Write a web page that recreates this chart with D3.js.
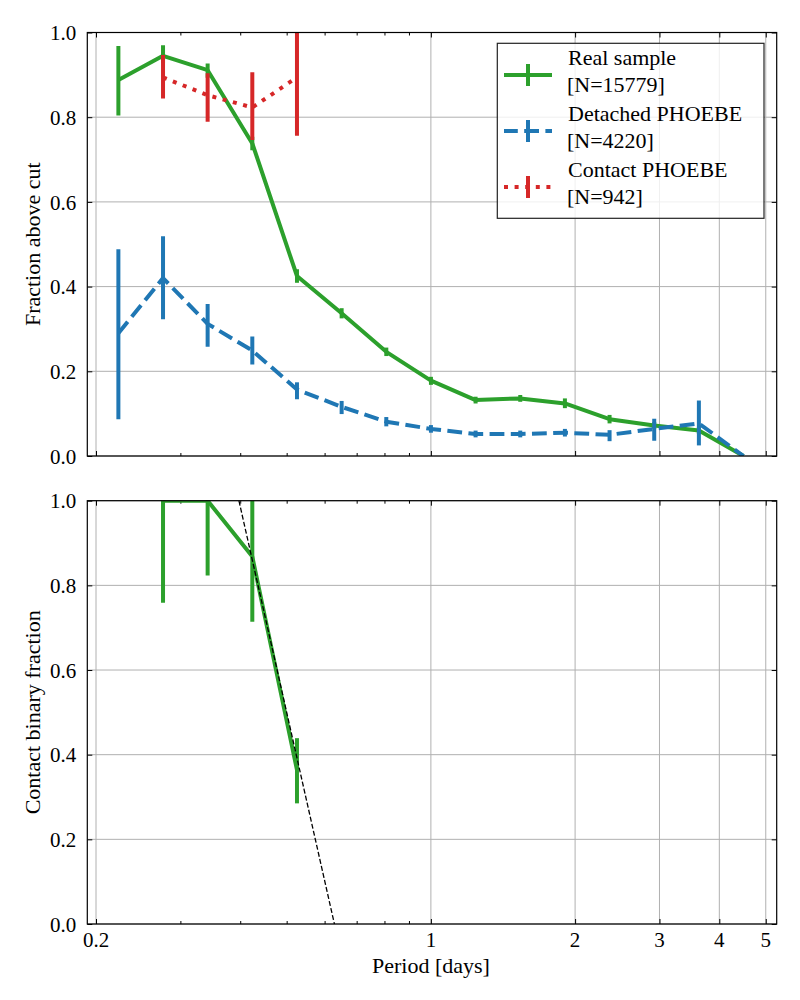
<!DOCTYPE html>
<html>
<head>
<meta charset="utf-8">
<script src="https://cdn.jsdelivr.net/npm/d3@7/dist/d3.min.js"></script>
<style>
  body { margin: 0; background: #fff; }
  svg text { font-family: "Liberation Serif", "DejaVu Serif", serif; fill: #000; }
</style>
</head>
<body>
<script>
// period bin centres [days]
const periods = [0.2227, 0.2760, 0.3420, 0.4239, 0.5254, 0.6512, 0.8071, 1.0003,
  1.2397, 1.5365, 1.9043, 2.3602, 2.9253, 3.6256, 4.4935];

// top panel: fraction above cut
const realFrac = [0.888, 0.945, 0.911, 0.738, 0.425, 0.337, 0.246, 0.178, 0.132, 0.136, 0.124, 0.087, 0.072, 0.060, 0.0];
const realLo   = [0.804, 0.928, 0.893, 0.722, 0.409, 0.325, 0.236, 0.168, 0.124, 0.128, 0.113, 0.077, 0.064, 0.052, 0.0];
const realHi   = [0.968, 0.970, 0.927, 0.754, 0.441, 0.349, 0.256, 0.187, 0.140, 0.144, 0.136, 0.097, 0.080, 0.068, 0.0];

const detFrac = [0.290, 0.420, 0.312, 0.249, 0.157, 0.116, 0.081, 0.064, 0.052, 0.052, 0.055, 0.050, 0.064, 0.077, 0.0];
const detLo   = [0.087, 0.323, 0.258, 0.216, 0.134, 0.099, 0.070, 0.055, 0.044, 0.044, 0.046, 0.035, 0.036, 0.025, 0.0];
const detHi   = [0.488, 0.519, 0.359, 0.282, 0.174, 0.130, 0.092, 0.073, 0.060, 0.060, 0.064, 0.061, 0.088, 0.131, 0.0];

const contPeriods = [0.2760, 0.3420, 0.4239, 0.5254];
const contFrac = [0.894, 0.852, 0.823, 0.894];
const contLo   = [0.844, 0.789, 0.746, 0.756];
const contHi   = [0.947, 0.904, 0.906, 1.050];

// bottom panel: contact binary fraction
const binPeriods = [0.2760, 0.3420, 0.4239, 0.5254];
const binFrac = [1.0, 1.0, 0.868, 0.364];
const binLo   = [0.759, 0.823, 0.714, 0.285];
const binHi   = [1.05, 1.05, 1.03, 0.439];

// dashed fit line end points
const fitPeriods = [0.3975, 0.629];
const fitValues = [1.0, 0.0];

const xTickVals = [0.2, 1, 2, 3, 4, 5];
const xTickLabels = ["0.2", "1", "2", "3", "4", "5"];
const xMinorVals = [0.3, 0.4, 0.5, 0.6, 0.7, 0.8, 0.9];
const yTickVals = [0, 0.2, 0.4, 0.6, 0.8, 1.0];

const legendLabels = [["Real sample", "[N=15779]"], ["Detached PHOEBE", "[N=4220]"], ["Contact PHOEBE", "[N=942]"]];

const green = "#2ca02c", blue = "#1f77b4", red = "#d62728";

const width = 800, height = 1000;
const left = 87.3, right = 776.7;
const lw = 4;

const svg = d3.select("body").append("svg")
  .attr("width", width)
  .attr("height", height);

const x = d3.scaleLog().domain([0.1918, 5.27]).range([left, right]);

function makePanel(top, bottom, id) {
  const y = d3.scaleLinear().domain([0, 1]).range([bottom, top]);
  const g = svg.append("g");

  svg.append("clipPath").attr("id", id)
    .append("rect")
    .attr("x", left).attr("y", top)
    .attr("width", right - left).attr("height", bottom - top);

  // grid
  g.selectAll(".gy").data(yTickVals).enter().append("line")
    .attr("x1", left).attr("x2", right)
    .attr("y1", d => y(d)).attr("y2", d => y(d))
    .attr("stroke", "#b0b0b0").attr("stroke-width", 1);
  g.selectAll(".gx").data(xTickVals).enter().append("line")
    .attr("x1", d => x(d)).attr("x2", d => x(d))
    .attr("y1", top).attr("y2", bottom)
    .attr("stroke", "#b0b0b0").attr("stroke-width", 1);

  // inward ticks on all sides
  const axes = [
    d3.axisBottom(x).tickValues(xTickVals).tickSize(-5).tickFormat(""),
    d3.axisBottom(x).tickValues(xMinorVals).tickSize(-3).tickFormat("")
  ];
  axes.forEach(ax => {
    g.append("g").attr("transform", `translate(0,${bottom})`).call(ax)
      .call(s => s.select(".domain").remove());
    g.append("g").attr("transform", `translate(0,${top})`)
      .call(ax.tickSize(-ax.tickSize()))
      .call(s => s.select(".domain").remove());
  });
  g.append("g").attr("transform", `translate(${left},0)`)
    .call(d3.axisLeft(y).tickValues(yTickVals).tickSize(-5).tickPadding(11).tickFormat(d3.format(".1f")))
    .call(s => s.select(".domain").remove())
    .call(s => s.selectAll("text").style("font-size", "21px").attr("dy", "0.34em"));
  g.append("g").attr("transform", `translate(${right},0)`)
    .call(d3.axisRight(y).tickValues(yTickVals).tickSize(-5).tickFormat(""))
    .call(s => s.select(".domain").remove());
  g.selectAll(".tick line").attr("stroke", "#000").attr("stroke-width", 1);

  const plot = svg.append("g").attr("clip-path", `url(#${id})`);
  return { y, g, plot, top, bottom };
}

function series(panel, xs, vals, lo, hi, color, dash) {
  const line = d3.line().x((d, i) => x(xs[i])).y(d => panel.y(d));
  panel.plot.append("path").datum(vals)
    .attr("d", line)
    .attr("fill", "none")
    .attr("stroke", color)
    .attr("stroke-width", lw)
    .attr("stroke-dasharray", dash)
    .attr("stroke-linejoin", "round");
  panel.plot.selectAll(null).data(vals).enter().append("line")
    .attr("x1", (d, i) => x(xs[i])).attr("x2", (d, i) => x(xs[i]))
    .attr("y1", (d, i) => panel.y(lo[i])).attr("y2", (d, i) => panel.y(hi[i]))
    .attr("stroke", color).attr("stroke-width", lw);
}

const topPanel = makePanel(32.5, 456, "clipTop");
const botPanel = makePanel(500.7, 924, "clipBot");

series(topPanel, periods, realFrac, realLo, realHi, green, null);
series(topPanel, periods, detFrac, detLo, detHi, blue, "14.8,6.4");
series(topPanel, contPeriods, contFrac, contLo, contHi, red, "4,6.6");

series(botPanel, binPeriods, binFrac, binLo, binHi, green, null);
botPanel.plot.append("path").datum(fitValues)
  .attr("d", d3.line().x((d, i) => x(fitPeriods[i])).y(d => botPanel.y(d)))
  .attr("fill", "none").attr("stroke", "#000")
  .attr("stroke-width", 1.3).attr("stroke-dasharray", "5,2.2");

// frames
[topPanel, botPanel].forEach(p => {
  svg.append("rect")
    .attr("x", left).attr("y", p.top)
    .attr("width", right - left).attr("height", p.bottom - p.top)
    .attr("fill", "none").attr("stroke", "#000").attr("stroke-width", 1.2);
});

// x tick labels (bottom panel only)
svg.append("g").selectAll("text").data(xTickVals).enter().append("text")
  .attr("x", d => x(d)).attr("y", 947)
  .attr("text-anchor", "middle")
  .style("font-size", "21px")
  .text((d, i) => xTickLabels[i]);

svg.append("text")
  .attr("x", 431).attr("y", 973)
  .attr("text-anchor", "middle")
  .style("font-size", "22px")
  .text("Period [days]");

svg.append("text")
  .attr("transform", `translate(40,${(32.5 + 456) / 2}) rotate(-90)`)
  .attr("text-anchor", "middle")
  .style("font-size", "22px")
  .text("Fraction above cut");

svg.append("text")
  .attr("transform", `translate(40,${(500.7 + 924) / 2}) rotate(-90)`)
  .attr("text-anchor", "middle")
  .style("font-size", "22px")
  .text("Contact binary fraction");

// legend
const legend = svg.append("g");
legend.append("rect")
  .attr("x", 497.3).attr("y", 43.3)
  .attr("width", 266.7).attr("height", 175)
  .attr("fill", "#fff").attr("fill-opacity", 0.8)
  .attr("stroke", "#222").attr("stroke-width", 1.2);

const legColors = [green, blue, red];
const legDash = [null, "14.8,6.4", "4,6.6"];
const legDashOffset = [0, 1, 0];
legendLabels.forEach((lab, i) => {
  const cy = 75 + i * 56;
  legend.append("line")
    .attr("x1", 504).attr("x2", 552).attr("y1", cy).attr("y2", cy)
    .attr("stroke", legColors[i]).attr("stroke-width", lw)
    .attr("stroke-dasharray", legDash[i])
    .attr("stroke-dashoffset", legDashOffset[i]);
  legend.append("line")
    .attr("x1", 528).attr("x2", 528).attr("y1", cy - 11).attr("y2", cy + 11)
    .attr("stroke", legColors[i]).attr("stroke-width", lw);
  legend.append("text").attr("x", 568).attr("y", cy - 10)
    .style("font-size", "22px").text(lab[0]);
  legend.append("text").attr("x", 567).attr("y", cy + 16.5)
    .style("font-size", "22px").text(lab[1]);
});
</script>
</body>
</html>
